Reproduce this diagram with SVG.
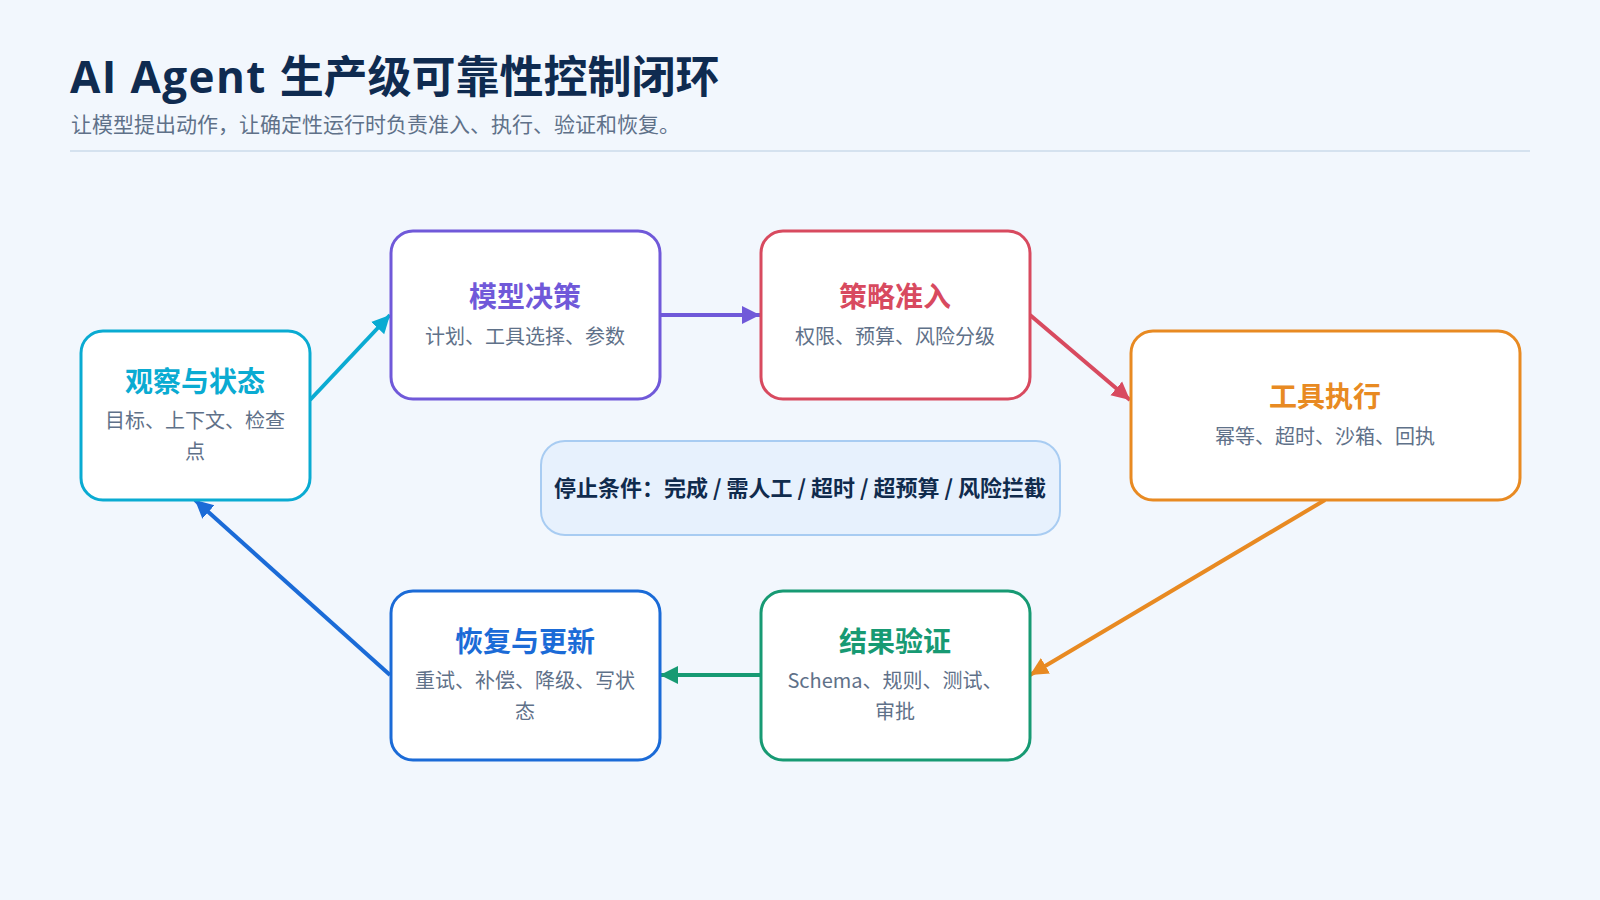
<svg xmlns="http://www.w3.org/2000/svg" width="1600" height="900" viewBox="0 0 1600 900">
<defs>
<style>
.bg{fill:#f2f7fd}
.node{fill:#ffffff;stroke-width:3}
.t{font-family:"Noto Sans CJK SC","Noto Sans",sans-serif;text-anchor:middle}
.nt{font-size:28px;font-weight:700}
.ns{font-size:20px;fill:#5f7189}
.edge{fill:none;stroke-width:4}
</style>
<marker id="mCyan" markerUnits="userSpaceOnUse" markerWidth="20" markerHeight="20" viewBox="0 0 20 20" refX="18" refY="10" orient="auto"><path d="M0,1 L18,10 L0,19 Z" fill="#0aabd2"/></marker>
<marker id="mPurple" markerUnits="userSpaceOnUse" markerWidth="20" markerHeight="20" viewBox="0 0 20 20" refX="18" refY="10" orient="auto"><path d="M0,1 L18,10 L0,19 Z" fill="#7059d9"/></marker>
<marker id="mRed" markerUnits="userSpaceOnUse" markerWidth="20" markerHeight="20" viewBox="0 0 20 20" refX="18" refY="10" orient="auto"><path d="M0,1 L18,10 L0,19 Z" fill="#d84a5f"/></marker>
<marker id="mOrange" markerUnits="userSpaceOnUse" markerWidth="20" markerHeight="20" viewBox="0 0 20 20" refX="18" refY="10" orient="auto"><path d="M0,1 L18,10 L0,19 Z" fill="#e88a22"/></marker>
<marker id="mGreen" markerUnits="userSpaceOnUse" markerWidth="20" markerHeight="20" viewBox="0 0 20 20" refX="18" refY="10" orient="auto"><path d="M0,1 L18,10 L0,19 Z" fill="#179a73"/></marker>
<marker id="mBlue" markerUnits="userSpaceOnUse" markerWidth="20" markerHeight="20" viewBox="0 0 20 20" refX="18" refY="10" orient="auto"><path d="M0,1 L18,10 L0,19 Z" fill="#1b6bd7"/></marker>
</defs>
<rect class="bg" x="0" y="0" width="1600" height="900"/>
<g id="header">
<text x="70" y="93" font-family="'Noto Sans CJK SC','Noto Sans',sans-serif" font-size="44" font-weight="700" fill="#0f2b50"><tspan font-family="'Open Sans','Noto Sans CJK SC',sans-serif" letter-spacing="1.4">AI Agent </tspan>生产级可靠性控制闭环</text>
<text x="71" y="132" font-family="'Noto Sans CJK SC','Noto Sans',sans-serif" font-size="21" fill="#5f7189">让模型提出动作，让确定性运行时负责准入、执行、验证和恢复。</text>
<line x1="70" y1="151" x2="1530" y2="151" stroke="#d5e2ef" stroke-width="2"/>
</g>
<g id="connectors">
<line class="edge" x1="310" y1="400" x2="390" y2="315" stroke="#0aabd2" marker-end="url(#mCyan)"/>
<line class="edge" x1="660" y1="315" x2="760" y2="315" stroke="#7059d9" marker-end="url(#mPurple)"/>
<line class="edge" x1="1030" y1="315" x2="1130" y2="400" stroke="#d84a5f" marker-end="url(#mRed)"/>
<line class="edge" x1="1325" y1="500" x2="1030" y2="675" stroke="#e88a22" marker-end="url(#mOrange)"/>
<line class="edge" x1="760" y1="675" x2="660" y2="675" stroke="#179a73" marker-end="url(#mGreen)"/>
<line class="edge" x1="390" y1="675" x2="195" y2="500" stroke="#1b6bd7" marker-end="url(#mBlue)"/>
</g>
<g id="node-observe">
<rect class="node" x="81" y="331" width="229" height="169" rx="22" stroke="#0aabd2"/>
<text class="t nt" x="195" y="392" fill="#0aabd2">观察与状态</text>
<text class="t ns" x="195" y="428">目标、上下文、检查</text>
<text class="t ns" x="195" y="459">点</text>
</g>
<g id="node-model">
<rect class="node" x="391" y="231" width="269" height="168" rx="22" stroke="#7059d9"/>
<text class="t nt" x="525" y="307" fill="#7059d9">模型决策</text>
<text class="t ns" x="525" y="344">计划、工具选择、参数</text>
</g>
<g id="node-policy">
<rect class="node" x="761" y="231" width="269" height="168" rx="22" stroke="#d84a5f"/>
<text class="t nt" x="895" y="307" fill="#d84a5f">策略准入</text>
<text class="t ns" x="895" y="344">权限、预算、风险分级</text>
</g>
<g id="node-tool">
<rect class="node" x="1131" y="331" width="389" height="169" rx="22" stroke="#e88a22"/>
<text class="t nt" x="1325" y="407" fill="#e88a22">工具执行</text>
<text class="t ns" x="1325" y="444">幂等、超时、沙箱、回执</text>
</g>
<g id="node-verify">
<rect class="node" x="761" y="591" width="269" height="169" rx="22" stroke="#179a73"/>
<text class="t nt" x="895" y="652" fill="#179a73">结果验证</text>
<text class="t ns" x="895" y="688">Schema、规则、测试、</text>
<text class="t ns" x="895" y="719">审批</text>
</g>
<g id="node-recovery">
<rect class="node" x="391" y="591" width="269" height="169" rx="22" stroke="#1b6bd7"/>
<text class="t nt" x="525" y="652" fill="#1b6bd7">恢复与更新</text>
<text class="t ns" x="525" y="688">重试、补偿、降级、写状</text>
<text class="t ns" x="525" y="719">态</text>
</g>
<g id="node-stop">
<rect x="541" y="441" width="519" height="94" rx="24" fill="#e7f1fd" stroke="#a8ccf2" stroke-width="2"/>
<text class="t" x="800" y="496" font-size="22" font-weight="700" fill="#102b4d">停止条件：完成 / 需人工 / 超时 / 超预算 / 风险拦截</text>
</g>
</svg>
